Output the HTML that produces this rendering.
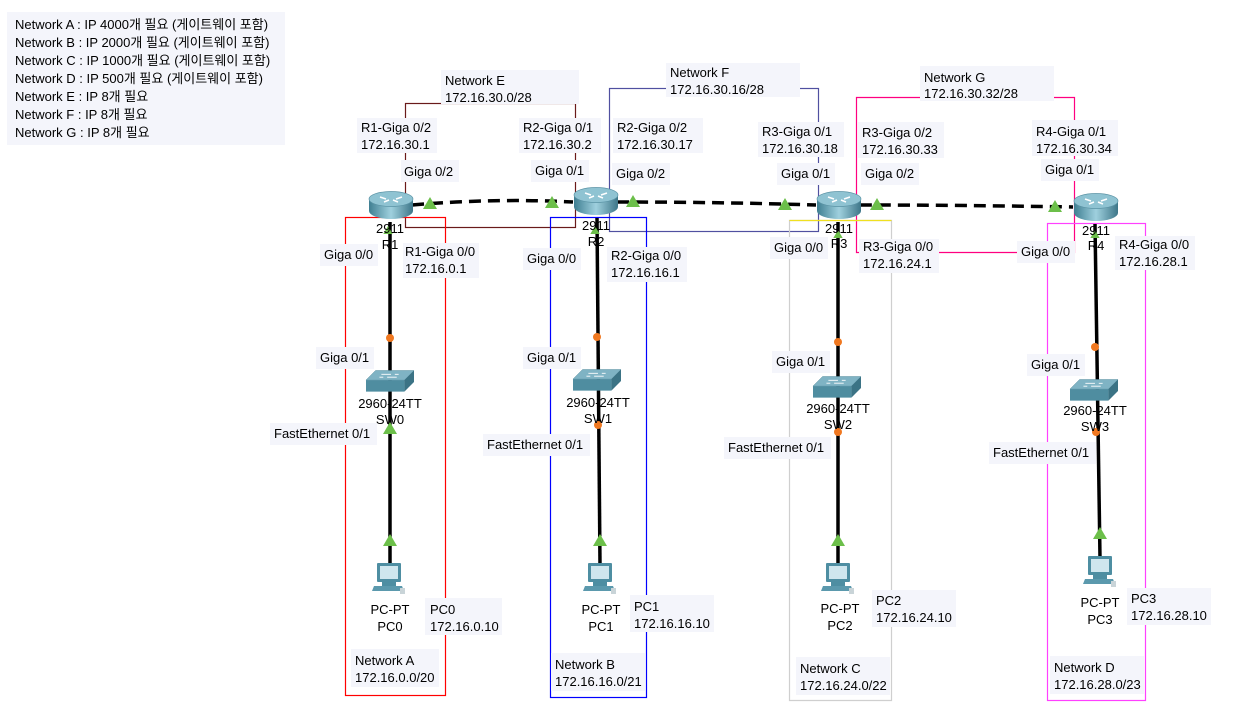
<!DOCTYPE html>
<html><head><meta charset="utf-8"><style>
body{margin:0;background:#fff}
svg{display:block}
text{font-family:"Liberation Sans","Noto Sans CJK KR",sans-serif;font-size:13px;fill:#000}
.lb{fill:#f4f5fb}
</style></head><body>
<svg width="1239" height="716" viewBox="0 0 1239 716" xmlns="http://www.w3.org/2000/svg">
<defs>
<linearGradient id="rg" x1="0" x2="1"><stop offset="0" stop-color="#3f7f92"/><stop offset=".5" stop-color="#9fd0de"/><stop offset="1" stop-color="#3d7688"/></linearGradient>
<symbol id="router" viewBox="0 0 46 30" overflow="visible">
<path d="M1 8 V20 A22 8 0 0 0 45 20 V8 Z" fill="url(#rg)"/>
<ellipse cx="23" cy="8" rx="22" ry="7.5" fill="#8fc3d2" stroke="#5a93a5" stroke-width=".7"/>
<path d="M12 6 l6 2 M34 6 l-6 2 M16 11 l5-2 M30 11 l-5-2" stroke="#fff" stroke-width="1.5"/>
</symbol>
<symbol id="switch" viewBox="0 0 50 24" overflow="visible">
<path d="M0 10 L10 0 H50 L40 10 Z" fill="#7fb3c4" stroke="#5a8fa0" stroke-width=".5"/>
<path d="M0 10 H40 V22 H0 Z" fill="#4f8da0"/>
<path d="M40 10 L50 0 V12 L40 22 Z" fill="#3b7385"/>
<path d="M16 4 h10 M22 7 h10 M14 7 h4 M30 4 h4" stroke="#fff" stroke-width="1"/>
</symbol>
<symbol id="pc" viewBox="0 0 34 32" overflow="visible">
<rect x="5" y="0" width="24" height="19" rx="1" fill="#4e8ea2"/>
<rect x="8" y="3" width="18" height="13" fill="#cfe6ee"/>
<rect x="10" y="19" width="14" height="4" fill="#4e8ea2"/>
<path d="M2 23 H30 L32 28 H0 Z" fill="#5b99ad"/>
<rect x="28" y="25" width="5" height="6" fill="#c9d4d8"/>
</symbol>
<symbol id="tri" viewBox="0 0 14 12" overflow="visible"><path d="M0 12 L7 0 L14 12 Z" fill="#6cbf4a"/></symbol>
</defs>

<rect x="7" y="12" width="278" height="133" class="lb"/>
<text x="15" y="29">Network A : IP 4000개 필요 (게이트웨이 포함)</text>
<text x="15" y="47">Network B : IP 2000개 필요 (게이트웨이 포함)</text>
<text x="15" y="65">Network C : IP 1000개 필요 (게이트웨이 포함)</text>
<text x="15" y="83">Network D : IP 500개 필요 (게이트웨이 포함)</text>
<text x="15" y="101">Network E : IP 8개 필요</text>
<text x="15" y="119">Network F : IP 8개 필요</text>
<text x="15" y="137">Network G : IP 8개 필요</text>

<g fill="none" stroke-width="1.2">
<rect x="405.5" y="103.5" width="170" height="124" stroke="#6a1a1a"/>
<rect x="609.5" y="88.5" width="209" height="143" stroke="#5050a0"/>
<path d="M856.5 97.5 H1074.5 V252.5 H856.5 Z" stroke="#ff0080"/>
<rect x="345.5" y="217.5" width="100" height="478" stroke="#ff0000"/>
<rect x="550.5" y="217.5" width="96" height="480" stroke="#0000ff"/>
<path d="M789.5 700.5 V220.5 H891.5 V700.5 Z" stroke="#cfcfcf"/>
<path d="M789.5 220.5 H891.5" stroke="#f0e020"/>
<rect x="1047.5" y="223.5" width="98" height="477" stroke="#ff40ff"/>
</g>

<g stroke="#000" stroke-width="3.5" stroke-dasharray="12,7" fill="none">
<path d="M412 205 Q495 198 573 202"/>
<path d="M617 202 Q720 202 816 205"/>
<path d="M860 205 Q960 205 1073 207"/>
</g>
<g stroke="#000" stroke-width="3.5">
<line x1="390" y1="222" x2="390" y2="565"/>
<line x1="597" y1="218" x2="600" y2="565"/>
<line x1="838" y1="222" x2="838" y2="565"/>
<line x1="1095" y1="224" x2="1100" y2="558"/>
</g>

<use href="#tri" x="423" y="197" width="14" height="12"/>
<use href="#tri" x="545" y="196" width="14" height="12"/>
<use href="#tri" x="626" y="195" width="14" height="12"/>
<use href="#tri" x="778" y="198" width="14" height="12"/>
<use href="#tri" x="870" y="198" width="14" height="12"/>
<use href="#tri" x="1048" y="200" width="14" height="12"/>
<use href="#tri" x="383" y="422" width="14" height="12"/>
<use href="#tri" x="383" y="534" width="14" height="12"/>
<use href="#tri" x="593" y="534" width="14" height="12"/>
<use href="#tri" x="831" y="534" width="14" height="12"/>
<use href="#tri" x="1093" y="527" width="14" height="12"/>
<use href="#tri" x="383" y="226" width="10" height="8"/>
<use href="#tri" x="590" y="226" width="10" height="8"/>
<use href="#tri" x="833" y="230" width="10" height="8"/>
<use href="#tri" x="1090" y="230" width="10" height="8"/>

<g fill="#f07820">
<circle cx="390" cy="338" r="4"/>
<circle cx="597" cy="337" r="4"/>
<circle cx="598" cy="425" r="4"/>
<circle cx="838" cy="342" r="4"/>
<circle cx="838" cy="432" r="4"/>
<circle cx="1095" cy="347" r="4"/>
<circle cx="1096" cy="432" r="4"/>
</g>

<use href="#router" x="368" y="191" width="46" height="30"/>
<use href="#router" x="573" y="187" width="46" height="30"/>
<use href="#router" x="816" y="191" width="46" height="30"/>
<use href="#router" x="1073" y="193" width="46" height="30"/>
<use href="#switch" x="366" y="370" width="48" height="24"/>
<use href="#switch" x="573" y="369" width="48" height="24"/>
<use href="#switch" x="813" y="376" width="48" height="24"/>
<use href="#switch" x="1070" y="379" width="48" height="24"/>
<use href="#pc" x="372" y="563" width="34" height="32"/>
<use href="#pc" x="583" y="563" width="34" height="32"/>
<use href="#pc" x="821" y="563" width="34" height="32"/>
<use href="#pc" x="1083" y="556" width="34" height="32"/>

<g class="lb">
<rect x="441" y="70" width="138" height="34"/>
<rect x="666" y="63" width="134" height="34"/>
<rect x="920" y="66" width="134" height="35"/>
<rect x="357" y="118" width="80" height="35"/>
<rect x="519" y="118" width="82" height="35"/>
<rect x="613" y="118" width="90" height="35"/>
<rect x="758" y="122" width="86" height="35"/>
<rect x="858" y="122" width="86" height="36"/>
<rect x="1032" y="120" width="86" height="36"/>
<rect x="401" y="160" width="58" height="22"/>
<rect x="531" y="160" width="58" height="22"/>
<rect x="612" y="163" width="58" height="22"/>
<rect x="777" y="163" width="58" height="22"/>
<rect x="861" y="163" width="58" height="22"/>
<rect x="1041" y="159" width="58" height="22"/>
<rect x="320" y="244" width="58" height="22"/>
<rect x="403" y="243" width="76" height="35"/>
<rect x="523" y="248" width="58" height="22"/>
<rect x="607" y="247" width="80" height="35"/>
<rect x="770" y="237" width="58" height="22"/>
<rect x="859" y="239" width="80" height="34"/>
<rect x="1017" y="241" width="58" height="22"/>
<rect x="1115" y="236" width="80" height="34"/>
<rect x="316" y="347" width="58" height="22"/>
<rect x="523" y="347" width="58" height="22"/>
<rect x="772" y="351" width="58" height="22"/>
<rect x="1027" y="354" width="58" height="22"/>
<rect x="270" y="423" width="107" height="22"/>
<rect x="483" y="434" width="107" height="22"/>
<rect x="724" y="437" width="107" height="22"/>
<rect x="989" y="442" width="107" height="22"/>
<rect x="425" y="598" width="77" height="37"/>
<rect x="630" y="595" width="84" height="37"/>
<rect x="872" y="590" width="84" height="37"/>
<rect x="1127" y="588" width="84" height="37"/>
<rect x="351" y="649" width="88" height="38"/>
<rect x="551" y="653" width="94" height="38"/>
<rect x="796" y="657" width="94" height="38"/>
<rect x="1050" y="656" width="94" height="38"/>
</g>

<text x="445" y="85">Network E</text><text x="445" y="102">172.16.30.0/28</text>
<text x="670" y="77">Network F</text><text x="670" y="94">172.16.30.16/28</text>
<text x="924" y="82">Network G</text><text x="924" y="98">172.16.30.32/28</text>
<text x="361" y="132">R1-Giga 0/2</text><text x="361" y="149">172.16.30.1</text>
<text x="523" y="132">R2-Giga 0/1</text><text x="523" y="149">172.16.30.2</text>
<text x="617" y="132">R2-Giga 0/2</text><text x="617" y="149">172.16.30.17</text>
<text x="762" y="136">R3-Giga 0/1</text><text x="762" y="153">172.16.30.18</text>
<text x="862" y="137">R3-Giga 0/2</text><text x="862" y="154">172.16.30.33</text>
<text x="1036" y="136">R4-Giga 0/1</text><text x="1036" y="153">172.16.30.34</text>
<text x="404" y="176">Giga 0/2</text>
<text x="535" y="175">Giga 0/1</text>
<text x="616" y="178">Giga 0/2</text>
<text x="781" y="178">Giga 0/1</text>
<text x="865" y="178">Giga 0/2</text>
<text x="1045" y="174">Giga 0/1</text>

<g text-anchor="middle">
<text x="390" y="233">2911</text><text x="390" y="249">R1</text>
<text x="596" y="230">2911</text><text x="596" y="246">R2</text>
<text x="839" y="233">2911</text><text x="839" y="248">R3</text>
<text x="1096" y="235">2911</text><text x="1096" y="250">R4</text>
<text x="390" y="408">2960-24TT</text><text x="390" y="424">SW0</text>
<text x="598" y="407">2960-24TT</text><text x="598" y="423">SW1</text>
<text x="838" y="413">2960-24TT</text><text x="838" y="429">SW2</text>
<text x="1095" y="415">2960-24TT</text><text x="1095" y="431">SW3</text>
<text x="390" y="614">PC-PT</text><text x="390" y="631">PC0</text>
<text x="601" y="614">PC-PT</text><text x="601" y="631">PC1</text>
<text x="840" y="613">PC-PT</text><text x="840" y="630">PC2</text>
<text x="1100" y="607">PC-PT</text><text x="1100" y="624">PC3</text>
</g>

<text x="324" y="259">Giga 0/0</text>
<text x="405" y="256">R1-Giga 0/0</text><text x="405" y="273">172.16.0.1</text>
<text x="527" y="263">Giga 0/0</text>
<text x="611" y="260">R2-Giga 0/0</text><text x="611" y="277">172.16.16.1</text>
<text x="774" y="252">Giga 0/0</text>
<text x="863" y="251">R3-Giga 0/0</text><text x="863" y="268">172.16.24.1</text>
<text x="1021" y="256">Giga 0/0</text>
<text x="1119" y="249">R4-Giga 0/0</text><text x="1119" y="266">172.16.28.1</text>
<text x="320" y="362">Giga 0/1</text>
<text x="527" y="362">Giga 0/1</text>
<text x="776" y="366">Giga 0/1</text>
<text x="1031" y="369">Giga 0/1</text>
<text x="274" y="438">FastEthernet 0/1</text>
<text x="487" y="449">FastEthernet 0/1</text>
<text x="728" y="452">FastEthernet 0/1</text>
<text x="993" y="457">FastEthernet 0/1</text>
<text x="430" y="614">PC0</text><text x="430" y="631">172.16.0.10</text>
<text x="634" y="611">PC1</text><text x="634" y="628">172.16.16.10</text>
<text x="876" y="605">PC2</text><text x="876" y="622">172.16.24.10</text>
<text x="1131" y="603">PC3</text><text x="1131" y="620">172.16.28.10</text>
<text x="355" y="665">Network A</text><text x="355" y="682">172.16.0.0/20</text>
<text x="555" y="669">Network B</text><text x="555" y="686">172.16.16.0/21</text>
<text x="800" y="673">Network C</text><text x="800" y="690">172.16.24.0/22</text>
<text x="1054" y="672">Network D</text><text x="1054" y="689">172.16.28.0/23</text>
</svg>
</body></html>
